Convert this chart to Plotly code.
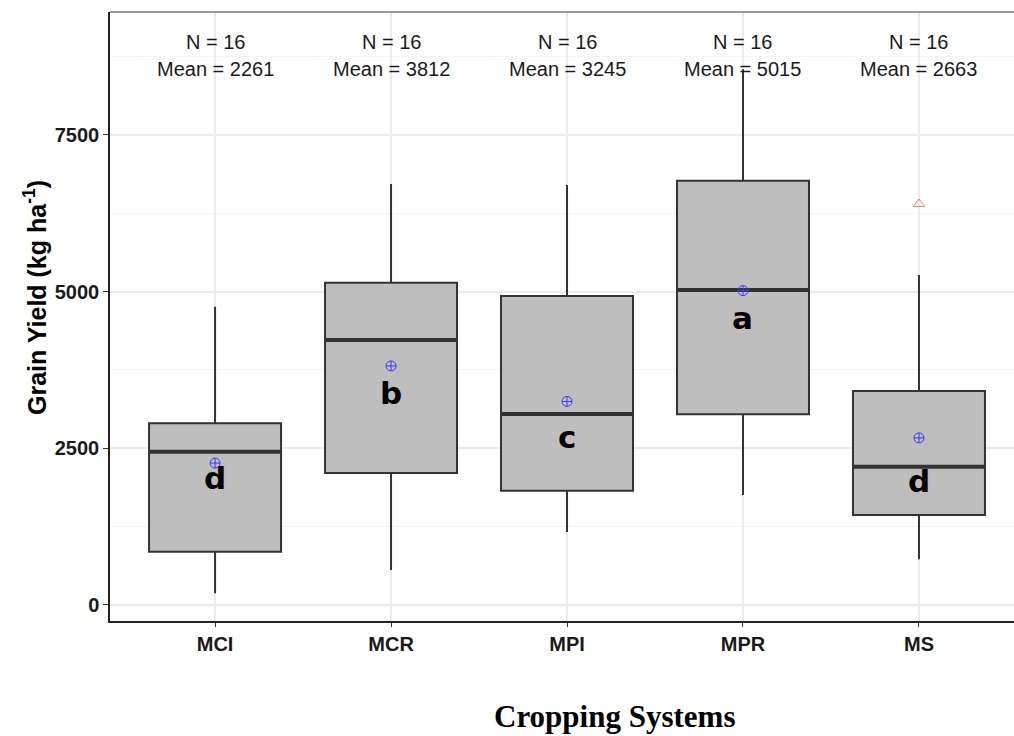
import plotly.graph_objects as go

# Grain yield summary per cropping system (kg/ha)
systems = ["MCI", "MCR", "MPI", "MPR", "MS"]
n_obs = [16, 16, 16, 16, 16]
means = [2261, 3812, 3245, 5015, 2663]
q1 = [846, 2103, 1820, 3040, 1432]
medians = [2443, 4227, 3045, 5025, 2204]
q3 = [2896, 5141, 4929, 6770, 3412]
lower_whisker = [182, 554, 1160, 1751, 725]
upper_whisker = [4758, 6717, 6701, 8550, 5264]
outlier_system = ["MS"]
outlier_values = [6398]
groups = ["d", "b", "c", "a", "d"]
group_label_y = [2017, 3380, 2678, 4578, 1970]
y_ticks = [0, 2500, 5000, 7500]
y_minor = [1250, 3750, 6250, 8750]

pos = list(range(len(systems)))
box_w = 0.75

# panel geometry in pixels (used for paper-referenced titles)
L, R, T, B = 110, 1014, 12, 621
PW, PH = R - L, B - T

fig = go.Figure()

fig.add_trace(go.Box(
    x=pos, q1=q1, median=medians, q3=q3,
    lowerfence=lower_whisker, upperfence=upper_whisker,
    width=box_w, whiskerwidth=0,
    fillcolor="#bebebe", line=dict(color="#333333", width=2),
    boxpoints=False, hoverinfo="skip", showlegend=False,
))

# thicker median bars
for i, m in zip(pos, medians):
    fig.add_trace(go.Scatter(
        x=[i - box_w / 2, i + box_w / 2], y=[m, m], mode="lines",
        line=dict(color="#333333", width=4), showlegend=False, hoverinfo="skip",
    ))

# outliers
fig.add_trace(go.Scatter(
    x=[systems.index(s) for s in outlier_system], y=outlier_values, mode="markers",
    marker=dict(symbol="triangle-up-open", size=10, color="#f47a7a", line=dict(width=1)),
    showlegend=False, hoverinfo="skip",
))

# means
fig.add_trace(go.Scatter(
    x=pos, y=means, mode="markers",
    marker=dict(symbol="circle-cross-open", size=10, color="#3a3aff", line=dict(width=1)),
    showlegend=False, hoverinfo="skip",
))

# N / mean labels and significance letters
for i in pos:
    fig.add_annotation(x=i, y=8985, text=f"N = {n_obs[i]}", showarrow=False,
                       font=dict(family="Liberation Sans, Arial", size=20, color="#1a1a1a"))
    fig.add_annotation(x=i, y=8553, text=f"Mean = {means[i]}", showarrow=False,
                       font=dict(family="Liberation Sans, Arial", size=20, color="#1a1a1a"))
    fig.add_annotation(x=i, y=group_label_y[i], text=f"<b>{groups[i]}</b>", showarrow=False,
                       font=dict(family="DejaVu Sans", size=31, color="black"))

# axis titles
fig.add_annotation(
    x=(614 - L) / PW, xref="paper", y=-(716 - B) / PH, yref="paper",
    xanchor="center", yanchor="middle",
    text="<b>Cropping Systems</b>", showarrow=False,
    font=dict(family="Liberation Serif, Times New Roman", size=31, color="black"),
)
fig.add_annotation(
    x=-(L - 35) / PW, xref="paper", y=(B - 298) / PH, yref="paper",
    xanchor="center", yanchor="middle",
    text="<b>Grain Yield (kg ha<sup>-1</sup>)</b>", textangle=-90, showarrow=False,
    font=dict(family="Liberation Sans, Arial", size=25, color="black"),
)

# top border of the panel
fig.add_shape(type="line", xref="paper", yref="paper", x0=0, x1=1, y0=1, y1=1,
              line=dict(color="#9a9a9a", width=2))

fig.update_xaxes(
    range=[-0.597, 4.54], tickvals=pos, ticktext=[f"<b>{s}</b>" for s in systems],
    showgrid=True, gridcolor="#ebebeb", gridwidth=1.5, zeroline=False,
    showline=True, linecolor="#222222", linewidth=1.5,
    ticks="outside", ticklen=4, tickcolor="#333333",
    tickfont=dict(family="Liberation Sans, Arial", size=20, color="#1a1a1a"),
)
fig.update_yaxes(
    range=[-260, 9463], tickvals=y_ticks,
    ticktext=[f"<b>{v}</b>" for v in y_ticks],
    showgrid=True, gridcolor="#ebebeb", gridwidth=1.5, zeroline=False,
    minor=dict(tickvals=y_minor, showgrid=True, gridcolor="#f4f4f4", gridwidth=1),
    showline=True, linecolor="#222222", linewidth=1.5,
    ticks="outside", ticklen=5, tickcolor="#333333",
    tickfont=dict(family="Liberation Sans, Arial", size=20, color="#1a1a1a"),
)

fig.update_layout(
    width=1014, height=736,
    margin=dict(l=L, r=1014 - R, t=T, b=736 - B),
    plot_bgcolor="white", paper_bgcolor="white",
)

fig.write_html("out.html")
